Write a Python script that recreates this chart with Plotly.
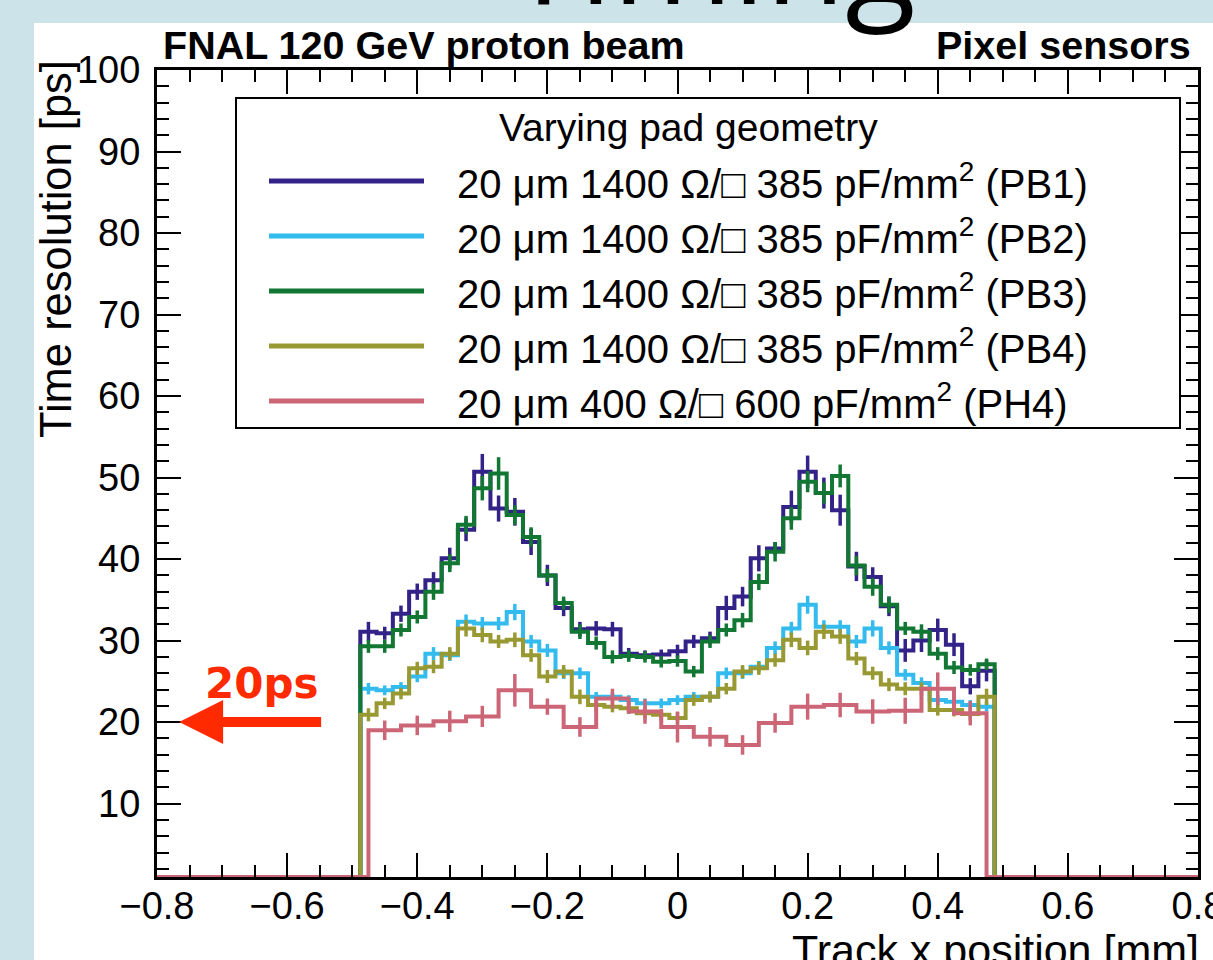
import numpy as np
import plotly.graph_objects as go

# ---- binning of the two histogram families ----
PB_LO, PB_W = -0.4875, 0.025     # PB sensors: 39 bins of 25 um
PH_LO, PH_W = -0.475, 0.05       # PH4 sensor: 19 bins of 50 um
X_MIN, X_MAX = -0.8, 0.8
Y_MIN, Y_MAX = 1, 100
X_TICKS = [-0.8, -0.6, -0.4, -0.2, 0, 0.2, 0.4, 0.6, 0.8]
Y_TICKS = [10, 20, 30, 40, 50, 60, 70, 80, 90, 100]

# ---- time resolution per bin [ps] ----
pb1 = [31.1, 30.9, 33.3, 36.0, 37.4, 40.1, 43.6, 50.7, 46.2, 45.8, 42.1, 38.0, 34.0,
       31.4, 31.5, 31.4, 28.4, 28.2, 28.3, 28.7, 29.9, 30.3, 34.0, 35.4, 40.1, 41.3,
       46.4, 50.7, 48.1, 46.0, 39.1, 37.8, 34.2, 28.8, 30.0, 31.3, 29.5, 24.4, 26.3]
pb2 = [24.1, 23.9, 24.3, 25.6, 28.4, 28.2, 32.3, 32.1, 32.1, 33.5, 29.9, 28.8, 26.0,
       26.0, 23.1, 23.1, 22.7, 22.3, 22.3, 22.7, 23.1, 23.1, 26.0, 26.0, 26.8, 29.1,
       31.5, 34.4, 31.7, 31.7, 29.9, 31.5, 29.1, 25.8, 24.8, 22.7, 22.5, 22.1, 21.9]
pb3 = [29.3, 29.3, 31.3, 32.9, 36.0, 39.5, 44.2, 48.7, 50.5, 45.4, 42.7, 38.0, 34.6,
       31.1, 29.7, 28.0, 28.1, 28.0, 27.4, 27.5, 26.2, 29.9, 31.3, 32.5, 37.2, 40.9,
       45.0, 49.5, 48.1, 50.2, 39.2, 36.6, 34.4, 31.5, 31.1, 28.4, 26.7, 26.4, 27.1]
pb4 = [20.9, 22.3, 23.5, 26.6, 26.8, 28.4, 31.5, 30.7, 29.9, 30.1, 28.2, 25.6, 26.2,
       23.1, 22.1, 21.9, 21.7, 21.1, 20.9, 20.5, 22.7, 23.1, 24.1, 26.2, 26.6, 27.6,
       30.1, 29.1, 31.1, 30.5, 27.8, 26.0, 24.6, 24.1, 24.1, 21.5, 21.5, 21.0, 23.1]
ph4 = [19.0, 19.6, 20.1, 20.7, 23.9, 21.9, 19.4, 22.9, 21.3, 19.4, 18.2, 17.2, 19.9,
       21.9, 22.1, 21.3, 21.4, 24.1, 21.1]

# ---- statistical uncertainties [ps] ----
pb1_err = [1.2, 0.8, 1.0, 1.0, 1.0, 1.3, 1.4, 2.2, 1.6, 1.7, 1.6, 1.3, 1.0, 0.9, 0.9, 0.9,
           0.7, 0.6, 0.6, 0.8, 0.8, 0.8, 1.5, 1.2, 1.6, 0.8, 2.0, 2.0, 1.9, 1.9, 1.8, 1.2,
           1.2, 1.4, 1.4, 1.4, 1.4, 1.0, 1.3]
pb2_err = [0.7, 0.6, 0.6, 0.7, 0.8, 0.7, 0.9, 0.8, 0.8, 1.0, 0.8, 0.8, 0.7, 0.7, 0.6, 0.6,
           0.6, 0.6, 0.6, 0.6, 0.6, 0.6, 0.7, 0.7, 0.7, 0.8, 0.8, 1.1, 0.8, 0.8, 0.8, 1.0,
           0.8, 0.7, 0.7, 0.6, 0.6, 0.6, 0.6]
pb3_err = [0.8, 0.8, 0.8, 0.8, 1.0, 1.1, 1.1, 1.5, 2.0, 1.2, 1.2, 0.8, 0.8, 0.9, 0.8, 0.8,
           0.7, 0.7, 0.7, 0.7, 0.7, 0.8, 0.8, 0.9, 1.0, 1.2, 1.4, 1.3, 1.3, 1.4, 1.2, 1.1,
           1.0, 0.8, 0.9, 0.8, 0.8, 0.7, 0.7]
pb4_err = [0.8, 0.7, 0.7, 0.8, 0.8, 0.8, 1.0, 0.9, 0.8, 0.9, 0.8, 0.8, 0.8, 0.9, 0.7, 0.7,
           0.7, 0.7, 0.7, 0.7, 0.7, 0.7, 0.7, 0.8, 0.8, 0.8, 0.9, 0.9, 0.9, 0.9, 0.8, 0.8,
           0.8, 0.8, 0.8, 0.7, 0.8, 0.8, 1.0]
ph4_err = [1.2, 1.2, 1.3, 1.3, 2.0, 1.0, 1.2, 1.2, 1.5, 1.9, 1.2, 1.2, 1.2, 1.6, 1.5, 1.5,
           1.6, 2.0, 1.5]

series_labels = [
    "20 \u03bcm 1400 \u03a9/\u25a1 385 pF/mm<sup>2</sup> (PB1)",
    "20 \u03bcm 1400 \u03a9/\u25a1 385 pF/mm<sup>2</sup> (PB2)",
    "20 \u03bcm 1400 \u03a9/\u25a1 385 pF/mm<sup>2</sup> (PB3)",
    "20 \u03bcm 1400 \u03a9/\u25a1 385 pF/mm<sup>2</sup> (PB4)",
    "20 \u03bcm 400 \u03a9/\u25a1 600 pF/mm<sup>2</sup> (PH4)",
]
series_colors = ["#332288", "#33bbee", "#117733", "#999933", "#cc6677"]
series_values = [pb1, pb2, pb3, pb4, ph4]
series_errors = [pb1_err, pb2_err, pb3_err, pb4_err, ph4_err]
series_bins = [(PB_LO, PB_W), (PB_LO, PB_W), (PB_LO, PB_W), (PB_LO, PB_W), (PH_LO, PH_W)]

FONT = "Liberation Sans, Arial, sans-serif"
W, H = 1213, 960
ML, MR, MT, MB = 157, 15, 70, 83
PW, PH = W - ML - MR, H - MT - MB


def px_x(p):
    return (p - ML) / PW


def px_y(p):
    return (H - MB - p) / PH


fig = go.Figure()

for vals, errs, (lo, width), col in zip(series_values, series_errors, series_bins, series_colors):
    vals = np.asarray(vals, dtype=float)
    n = len(vals)
    edges = lo + width * np.arange(n + 1)
    centers = lo + width * (np.arange(n) + 0.5)
    # empty bins outside the sensor sit on the frame floor
    xs = np.concatenate([[X_MIN], edges, [X_MAX]])
    ys = np.concatenate([[Y_MIN], vals, [Y_MIN, Y_MIN]])
    fig.add_trace(go.Scatter(
        x=xs, y=ys, mode="lines",
        line=dict(shape="hv", color=col, width=4),
        hoverinfo="skip", showlegend=False,
    ))
    fig.add_trace(go.Scatter(
        x=centers, y=vals, mode="markers",
        marker=dict(size=1, color=col),
        error_y=dict(type="data", array=errs, thickness=3.5, width=0, color=col),
        hoverinfo="skip", showlegend=False,
    ))

axis_common = dict(
    showgrid=False, zeroline=False,
    showline=True, linewidth=3, linecolor="black", mirror="allticks",
    ticks="inside", ticklen=24, tickwidth=2, tickcolor="black",
    tickfont=dict(family=FONT, size=38, color="black"),
    ticklabeloverflow="allow", automargin=False,
)

fig.update_xaxes(
    range=[X_MIN, X_MAX], tickmode="array", tickvals=X_TICKS,
    minor=dict(dtick=0.05, tick0=-0.8, ticklen=12, tickwidth=2, ticks="inside",
               tickcolor="black"),
    ticklabelstandoff=-7,
    **axis_common,
)
fig.update_yaxes(
    range=[Y_MIN, Y_MAX], tickmode="array", tickvals=Y_TICKS,
    minor=dict(dtick=2, tick0=0, ticklen=12, tickwidth=2, ticks="inside",
               tickcolor="black"),
    ticklabelstandoff=6,
    **axis_common,
)

shapes = []
annotations = []

# white slide panel behind the figure
shapes.append(dict(type="rect", xref="paper", yref="paper",
                   x0=px_x(34), x1=px_x(W + 20), y0=px_y(H + 20), y1=px_y(23),
                   fillcolor="white", line=dict(width=0), layer="below"))

# slide heading, mostly above the page
annotations.append(dict(text="Timing", xref="paper", yref="paper",
                        x=px_x(712), y=px_y(44), xanchor="center", yanchor="bottom",
                        showarrow=False,
                        font=dict(family="Open Sans, sans-serif", size=130, color="black")))

# headers above the frame
annotations.append(dict(text="<b>FNAL 120 GeV proton beam</b>", xref="paper", yref="paper",
                        x=px_x(161), y=px_y(45), xanchor="left", yanchor="middle",
                        showarrow=False, font=dict(family=FONT, size=39.5, color="black")))
annotations.append(dict(text="<b>Pixel sensors</b>", xref="paper", yref="paper",
                        x=px_x(1193), y=px_y(45), xanchor="right", yanchor="middle",
                        showarrow=False, font=dict(family=FONT, size=39.5, color="black")))

# axis titles, aligned to the frame ends
annotations.append(dict(text="Time resolution [ps]", xref="paper", yref="paper",
                        x=px_x(56), y=px_y(58), xanchor="center", yanchor="top",
                        textangle=-90, showarrow=False,
                        font=dict(family=FONT, size=43.5, color="black")))
annotations.append(dict(text="Track x position [mm]", xref="paper", yref="paper",
                        x=px_x(1201), y=px_y(924), xanchor="right", yanchor="top",
                        showarrow=False, font=dict(family=FONT, size=43, color="black")))

# legend box
shapes.append(dict(type="rect", xref="paper", yref="paper",
                   x0=px_x(236), x1=px_x(1180), y0=px_y(428), y1=px_y(98),
                   fillcolor="white", line=dict(color="black", width=2), layer="above"))
annotations.append(dict(text="Varying pad geometry", xref="paper", yref="paper",
                        x=px_x(688), y=px_y(127), xanchor="center", yanchor="middle",
                        showarrow=False, font=dict(family=FONT, size=39, color="black")))
row_y = [181, 236, 291, 346, 401]
for label, col, ry in zip(series_labels, series_colors, row_y):
    shapes.append(dict(type="line", xref="paper", yref="paper",
                       x0=px_x(269), x1=px_x(424), y0=px_y(ry), y1=px_y(ry),
                       line=dict(color=col, width=5), layer="above"))
    annotations.append(dict(text=label, xref="paper", yref="paper",
                            x=px_x(455), y=px_y(ry), xanchor="left", yanchor="middle",
                            showarrow=False, font=dict(family=FONT, size=40, color="black")))

# red marker pointing to the 20 ps level
ARROW_LEVEL = 20
RED = "#ff2a00"
shapes.append(dict(type="path", xref="x", yref="y",
                   xsizemode="pixel", ysizemode="pixel",
                   xanchor=-0.766, yanchor=ARROW_LEVEL,
                   path="M0,0 L44,22 L44,5 L142,5 L142,-5 L44,-5 L44,-22 Z",
                   fillcolor=RED, line=dict(width=0), layer="above"))
annotations.append(dict(text="<b>20ps</b>", xref="paper", yref="paper",
                        x=px_x(262), y=px_y(683), xanchor="center", yanchor="middle",
                        showarrow=False,
                        font=dict(family="DejaVu Sans, sans-serif", size=42, color=RED)))

fig.update_layout(
    width=W, height=H,
    margin=dict(l=ML, r=MR, t=MT, b=MB),
    paper_bgcolor="#cde3ea", plot_bgcolor="white",
    shapes=shapes, annotations=annotations,
    showlegend=False,
)

fig.write_html("out.html", config={"displayModeBar": False})
